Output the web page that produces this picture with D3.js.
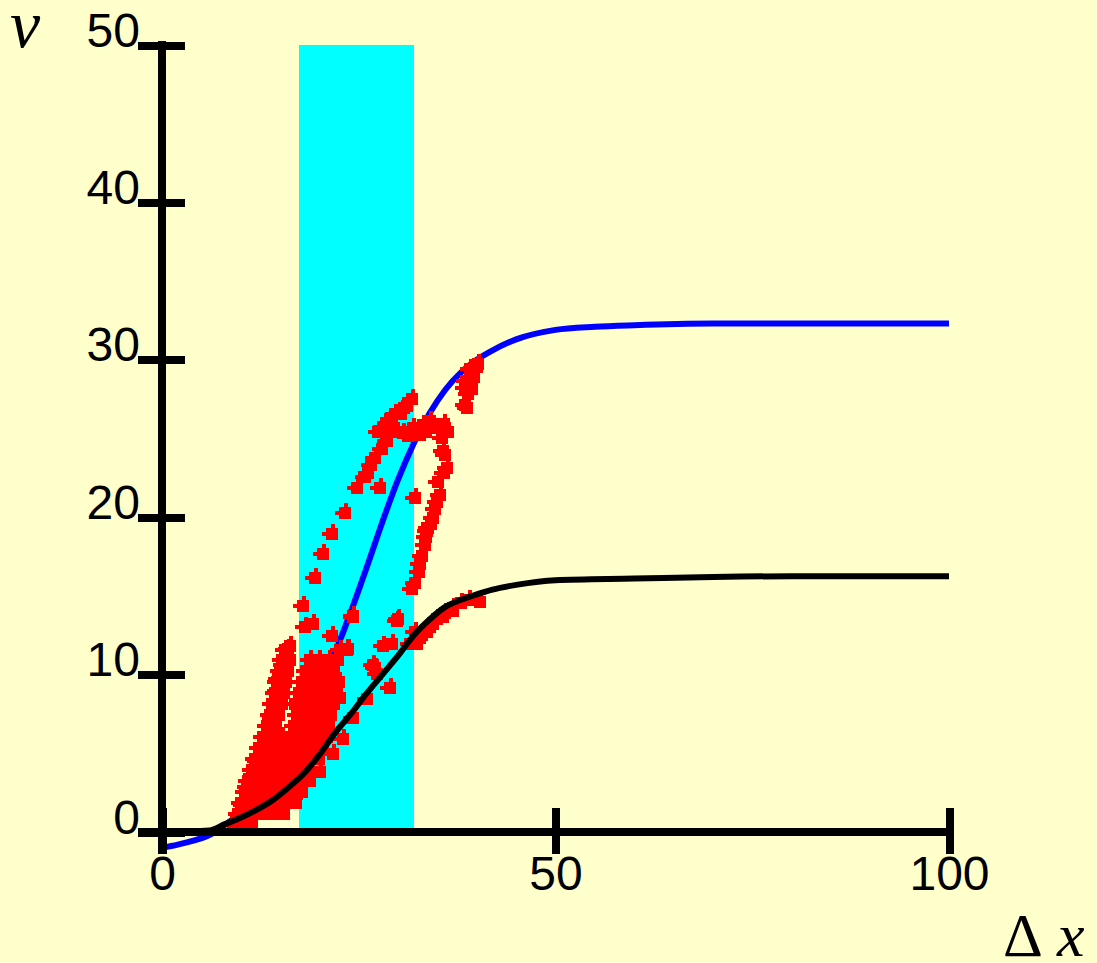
<!DOCTYPE html>
<html><head><meta charset="utf-8">
<script src="https://cdn.jsdelivr.net/npm/d3@7"></script>
<style>html,body{margin:0;padding:0;background:#FFFFCC;}svg{display:block}</style>
</head><body>
<svg id="c" width="1097" height="963"></svg>
<script>
// ---- data ----
const xTicks = [0, 50, 100];
const yTicks = [0, 10, 20, 30, 40, 50];
const bandRange = [17.4, 32.0];

const blueX = [0, 2, 4, 6, 8, 10, 12, 14, 16, 18, 20, 22, 24, 26, 28, 30, 32, 34, 36, 38, 40, 42, 45, 50, 55, 60, 70, 80, 100];
const blueV = [-1.0, -0.8, -0.55, -0.2, 0.45, 1.2, 2.2, 3.5, 5.0, 6.9, 9.0, 11.4, 14.0, 16.8, 19.7, 22.4, 24.7, 26.6, 28.1, 29.2, 30.0, 30.6, 31.3, 31.9, 32.1, 32.2, 32.3, 32.3, 32.3];

const blackX = [0, 6, 8, 10, 12, 14, 16, 18, 20, 22, 24, 26, 28, 30, 32, 34, 36, 38, 40, 42, 45, 50, 60, 70, 80, 100];
const blackV = [0, 0.1, 0.5, 0.9, 1.4, 2.0, 2.8, 3.7, 4.9, 6.3, 7.5, 8.8, 10.0, 11.2, 12.5, 13.5, 14.3, 14.75, 15.1, 15.4, 15.7, 16.0, 16.1, 16.2, 16.25, 16.25];

const redX = [9.5, 9.9, 10.3, 10.8, 11.6, 12.1, 12.7, 13.3, 14.0, 14.1, 14.6, 14.7, 15.4, 16.3, 16.0, 15.6, 15.4,
  17.9, 18.2, 19.2, 19.4, 20.5, 21.6, 23.3, 24.8, 26.2, 27.7, 27.1, 27.9, 28.6, 27.4, 28.1, 29.0, 29.6, 31.1, 31.8, 29.9, 31.9, 32.8, 34.1, 34.9,
  35.6, 35.7, 36.2, 35.1, 35.3, 34.7, 34.4, 33.7, 33.8, 33.4, 32.8, 31.8, 32.1,
  38.5, 38.5, 38.9, 38.6, 39.1, 40.2, 39.6, 40.0, 39.4, 38.8,
  21.6, 24.3, 30.0, 23.5, 29.2, 21.0, 27.1, 40.4, 37.0, 35.7, 34.4, 33.7, 32.8, 32.4, 28.1, 26.8, 27.3, 29.0, 26.0, 23.6, 24.3, 29.9,
  33.0, 34.0, 35.0, 36.0, 37.0, 38.0, 39.0, 31.5, 32.2,
  36.0, 35.8, 35.0, 34.2, 33.5, 33.0, 32.6, 32.2, 36.3, 35.8,
  28.4, 29.2, 30.4, 30.8, 26.6, 25.8, 33.2, 33.6, 31.2, 30.6,
  22.6, 23.5, 21.0, 21.7, 22.6, 24.3, 23.0, 21.7, 20.1, 18.8, 17.2, 15.4, 13.3, 11.6, 10.3,
  9.0, 10.2, 11.4,
  9.7, 10.9, 12.1, 13.3, 14.5, 15.5,
  10.1, 11.3, 12.5, 13.7, 14.9, 16.1, 17.0,
  10.6, 11.8, 13.0, 14.2, 15.4, 16.6, 17.8,
  10.9, 12.1, 13.3, 14.5, 15.7, 16.9, 18.2,
  11.4, 12.6, 13.8, 15.0, 16.2, 17.4, 18.6,
  11.8, 13.0, 14.2, 15.4, 16.6, 17.8, 19.0, 20.0,
  12.3, 13.5, 14.7, 15.9, 17.1, 18.3, 19.5, 20.5,
  12.8, 14.0, 15.2, 16.4, 17.6, 18.8, 20.0, 21.0,
  13.3, 14.5, 16.8, 18.0, 19.2, 20.4, 21.2,
  13.7, 14.9, 17.2, 18.4, 19.6, 20.8, 21.5,
  14.0, 15.2, 16.9, 18.1, 19.3, 20.5, 21.8,
  14.3, 15.5, 17.4, 18.6, 19.8, 21.0, 22.2,
  14.6, 15.8, 17.8, 19.0, 20.2, 21.4, 22.5,
  15.0, 16.0, 18.3, 19.5, 20.7, 21.9,
  15.3, 16.3, 18.8, 20.0, 21.2, 22.4];
const redV = [0.3, 1.0, 1.8, 2.9, 3.7, 4.6, 5.4, 6.3, 7.3, 8.2, 9.0, 9.8, 10.7, 11.9, 11.7, 11.6, 10.3,
  14.4, 13.1, 13.3, 16.2, 17.7, 19.0, 20.3, 21.9, 22.9, 21.9, 23.8, 24.4, 24.9, 25.5, 25.8, 26.3, 26.6, 27.1, 27.6, 25.5, 25.7, 25.3, 26.2, 25.7,
  25.1, 24.3, 23.2, 22.3, 21.5, 20.6, 20.0, 19.2, 19.4, 18.3, 17.1, 15.5, 21.3,
  28.3, 27.2, 27.9, 28.7, 29.5, 29.8, 29.0, 29.6, 28.2, 27.0,
  12.5, 13.7, 13.6, 11.7, 12.0, 10.7, 10.5, 14.7, 14.1, 13.7, 13.3, 12.8, 12.4, 12.0, 11.9, 10.7, 10.1, 9.2, 8.5, 11.7, 13.8, 13.5,
  12.6, 13.1, 13.6, 14.0, 14.3, 14.6, 14.8, 12.0, 12.8,
  24.0, 22.9, 21.0, 19.6, 18.8, 17.6, 16.6, 15.9, 25.5, 26.0,
  25.3, 25.9, 26.6, 27.0, 23.4, 22.6, 25.9, 25.5, 25.2, 25.4,
  11.6, 11.6, 10.7, 9.8, 8.6, 7.3, 6.0, 5.0, 3.9, 3.3, 2.5, 2.0, 1.6, 1.2, 0.6,
  0.5, 0.5, 0.5,
  1.2, 1.2, 1.2, 1.2, 1.2, 1.2,
  1.9, 1.9, 1.9, 1.9, 1.9, 1.9, 1.9,
  2.6, 2.6, 2.6, 2.6, 2.6, 2.6, 2.6,
  3.3, 3.3, 3.3, 3.3, 3.3, 3.3, 3.3,
  4.0, 4.0, 4.0, 4.0, 4.0, 4.0, 4.0,
  4.7, 4.7, 4.7, 4.7, 4.7, 4.7, 4.7, 4.7,
  5.4, 5.4, 5.4, 5.4, 5.4, 5.4, 5.4, 5.4,
  6.1, 6.1, 6.1, 6.1, 6.1, 6.1, 6.1, 6.1,
  6.8, 6.8, 6.8, 6.8, 6.8, 6.8, 6.8,
  7.5, 7.5, 7.5, 7.5, 7.5, 7.5, 7.5,
  8.2, 8.2, 8.2, 8.2, 8.2, 8.2, 8.2,
  8.9, 8.9, 8.9, 8.9, 8.9, 8.9, 8.9,
  9.6, 9.6, 9.6, 9.6, 9.6, 9.6, 9.6,
  10.3, 10.3, 10.3, 10.3, 10.3, 10.3,
  11.0, 11.0, 11.0, 11.0, 11.0, 11.0];

// ---- chart ----
const svg = d3.select("#c");
svg.append("rect").attr("width", 1097).attr("height", 963).attr("fill", "#FFFFCC");

const x = d3.scaleLinear().domain([0, 100]).range([162, 949]);
const y = d3.scaleLinear().domain([0, 50]).range([832, 45]);

// cyan band
svg.append("rect")
  .attr("x", x(bandRange[0])).attr("width", x(bandRange[1]) - x(bandRange[0]))
  .attr("y", y(50)).attr("height", y(0) - y(50))
  .attr("fill", "#00FFFF").attr("shape-rendering", "crispEdges");

const line = d3.line().x(d => x(d[0])).y(d => y(d[1])).curve(d3.curveMonotoneX);

// blue curve (beneath the data points)
svg.append("path").datum(blueX.map((d, i) => [d, blueV[i]])).attr("d", line)
  .attr("fill", "none").attr("stroke", "#0000FF").attr("stroke-width", 6);

// red markers
const markerPath = "M-6,-5H-1V-9H3V-5H6V7H-6V3H-10V-1H-6Z";
svg.append("g").selectAll("path").data(redX.map((d, i) => [d, redV[i]])).join("path")
  .attr("d", markerPath)
  .attr("transform", d => `translate(${Math.round(x(d[0]))},${Math.round(y(d[1]))})`)
  .attr("fill", "#FF0000").attr("shape-rendering", "crispEdges");

// axes lines
svg.append("line").attr("x1", x(0)).attr("x2", x(0)).attr("y1", y(50) - 4).attr("y2", y(0) + 22)
  .attr("stroke", "#000").attr("stroke-width", 8).attr("shape-rendering", "crispEdges");
svg.append("line").attr("x1", x(0) - 24).attr("x2", x(100) + 4).attr("y1", y(0)).attr("y2", y(0))
  .attr("stroke", "#000").attr("stroke-width", 8).attr("shape-rendering", "crispEdges");

const fontFam = "'Liberation Sans', Arial, sans-serif";
const gy = svg.append("g").attr("transform", `translate(${x(0)},0)`)
  .call(d3.axisLeft(y).tickValues(yTicks).tickSizeInner(24).tickSizeOuter(0).tickPadding(0).tickFormat(d3.format("d")));
gy.attr("font-size", 48).attr("font-family", fontFam);
gy.select(".domain").remove();
gy.selectAll(".tick line").attr("x1", 23).attr("x2", -24).attr("stroke", "#000").attr("stroke-width", 8).attr("shape-rendering", "crispEdges");
gy.selectAll(".tick text").attr("x", -22).attr("dy", null).attr("y", 1).attr("text-anchor", "end").attr("fill", "#000");

const gx = svg.append("g").attr("transform", `translate(0,${y(0)})`)
  .call(d3.axisBottom(x).tickValues(xTicks).tickSizeInner(22).tickSizeOuter(0).tickPadding(0).tickFormat(d3.format("d")));
gx.attr("font-size", 48).attr("font-family", fontFam);
gx.select(".domain").remove();
gx.selectAll(".tick line").attr("y1", -24).attr("y2", 22).attr("stroke", "#000").attr("stroke-width", 8).attr("shape-rendering", "crispEdges");
gx.selectAll(".tick text").attr("y", 58).attr("dy", null).attr("text-anchor", "middle").attr("fill", "#000");

// black curve (over the data points)
svg.append("path").datum(blackX.map((d, i) => [d, blackV[i]])).attr("d", line)
  .attr("fill", "none").attr("stroke", "#000").attr("stroke-width", 6);

// axis titles
svg.append("text").attr("x", 10).attr("y", 47)
  .attr("font-family", "'Liberation Serif', 'Times New Roman', serif").attr("font-style", "italic")
  .attr("font-size", 68).attr("fill", "#000").text("v");
const t = svg.append("text").attr("y", 956)
  .attr("font-family", "'Liberation Serif', 'Times New Roman', serif").attr("font-size", 62).attr("fill", "#000");
t.append("tspan").attr("x", 1003).text("Δ");
t.append("tspan").attr("x", 1057).attr("font-style", "italic").text("x");
</script>
</body></html>
